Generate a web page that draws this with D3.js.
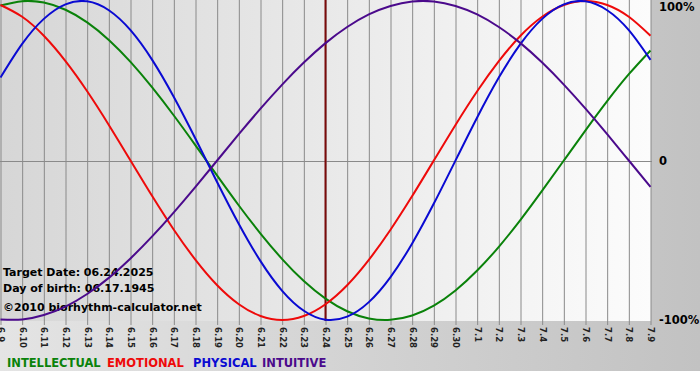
<!DOCTYPE html>
<html>
<head>
<meta charset="utf-8">
<script src="https://cdn.jsdelivr.net/npm/d3@7"></script>
<style>
  body { margin: 0; background: #fff; }
  svg { display: block; }
</style>
</head>
<body>
<div id="chart"></div>
<script>
// day labels on the x axis (m.d)
const days = ["6.9","6.10","6.11","6.12","6.13","6.14","6.15","6.16","6.17","6.18","6.19","6.20",
  "6.21","6.22","6.23","6.24","6.25","6.26","6.27","6.28","6.29","6.30",
  "7.1","7.2","7.3","7.4","7.5","7.6","7.7","7.8","7.9"]

// cycle values per day, -1..1
const intellectual = [0.972,0.999,0.990,0.945,0.866,0.756,0.618,0.458,0.282,0.095,-0.095,-0.282,-0.458,-0.618,-0.756,-0.866,
  -0.945,-0.990,-0.999,-0.972,-0.910,-0.815,-0.690,-0.541,-0.372,-0.189,0.000,0.189,0.372,0.541,0.690]
const emotional = [0.975,0.901,0.782,0.623,0.434,0.223,0.000,-0.223,-0.434,-0.623,-0.782,-0.901,-0.975,-1.000,-0.975,-0.901,
  -0.782,-0.623,-0.434,-0.223,0.000,0.223,0.434,0.623,0.782,0.901,0.975,1.000,0.975,0.901,0.782]
const physical = [0.520,0.731,0.888,0.979,0.998,0.942,0.817,0.631,0.398,0.136,-0.136,-0.398,-0.631,-0.817,-0.942,-0.998,
  -0.979,-0.888,-0.731,-0.520,-0.270,0.000,0.270,0.520,0.731,0.888,0.979,0.998,0.942,0.817,0.631]
const intuitive = [-0.997,-0.997,-0.969,-0.916,-0.837,-0.736,-0.614,-0.476,-0.325,-0.165,0.000,0.165,0.325,0.476,0.614,0.736,
  0.837,0.916,0.969,0.997,0.997,0.969,0.916,0.837,0.736,0.614,0.476,0.325,0.165,0.000,-0.165]

const yLabels = [[1,"100%"],[0,"0"],[-1,"-100%"]]
const targetDay = "6.24"

const series = [
  {name: "INTELLECTUAL", values: intellectual, color: "#0a820a", lx: 7},
  {name: "EMOTIONAL", values: emotional, color: "#ee0a0a", lx: 107},
  {name: "PHYSICAL", values: physical, color: "#0a0ad2", lx: 193},
  {name: "INTUITIVE", values: intuitive, color: "#4b0a8c", lx: 262}
]

const width = 700, height = 380
const plotW = 651, plotH = 321

const svg = d3.select("#chart").append("svg")
  .attr("width", width)
  .attr("height", height)
  .style("font-family", "'DejaVu Sans', Verdana, sans-serif")

const defs = svg.append("defs")
const outerGrad = defs.append("linearGradient").attr("id", "outerGrad")
outerGrad.append("stop").attr("offset", "0%").attr("stop-color", "#e4e4e4")
outerGrad.append("stop").attr("offset", "100%").attr("stop-color", "#c2c2c2")
const plotGrad = defs.append("linearGradient").attr("id", "plotGrad")
plotGrad.append("stop").attr("offset", "0%").attr("stop-color", "#d6d6d6")
plotGrad.append("stop").attr("offset", "100%").attr("stop-color", "#fcfcfc")

svg.append("rect").attr("width", width).attr("height", 371).attr("fill", "url(#outerGrad)")
svg.append("rect").attr("width", plotW).attr("height", plotH).attr("fill", "url(#plotGrad)")

const x = d3.scalePoint().domain(days).range([0.5, 650.5])
const y = d3.scaleLinear().domain([-1, 1]).range([320, 1])

// vertical grid + ticks via the axis
const xAxis = svg.append("g")
  .call(d3.axisBottom(x).tickSize(325).tickPadding(0))
xAxis.select(".domain").remove()
xAxis.selectAll(".tick line").attr("stroke", "#8a8a8a")
xAxis.selectAll(".tick text")
  .attr("transform", "rotate(90)")
  .attr("x", 327)
  .attr("y", 0)
  .attr("dy", "0.35em")
  .style("text-anchor", "start")
  .style("font-family", "'DejaVu Sans', Verdana, sans-serif")
  .style("font-size", "8.5px")
  .style("font-weight", "bold")
  .attr("fill", "#222")

// zero line
svg.append("line")
  .attr("x1", 0).attr("x2", 652)
  .attr("y1", Math.round(y(0)) + 0.5).attr("y2", Math.round(y(0)) + 0.5)
  .attr("stroke", "#8a8a8a")

// right labels
svg.selectAll(".ylab").data(yLabels).enter().append("text")
  .attr("class", "ylab")
  .attr("x", 659)
  .attr("y", d => Math.min(Math.max(y(d[0]), 7), 321))
  .attr("dy", "0.35em")
  .style("font-size", "11.5px")
  .style("font-weight", "bold")
  .text(d => d[1])

// info text
const info = ["Target Date: 06.24.2025", "Day of birth: 06.17.1945"]
svg.selectAll(".info").data(info).enter().append("text")
  .attr("x", 3)
  .attr("y", (d, i) => 276 + i * 15.5)
  .style("font-size", "11px")
  .style("font-weight", "bold")
  .text(d => d)
svg.append("text")
  .attr("x", 3).attr("y", 311)
  .style("font-size", "11px")
  .style("font-weight", "bold")
  .text("\u00a92010 biorhythm-calculator.net")

// target date line
svg.append("line")
  .attr("x1", x(targetDay)).attr("x2", x(targetDay))
  .attr("y1", 0).attr("y2", plotH)
  .attr("stroke", "#7a0a0a")
  .attr("stroke-width", 2)

const line = d3.line()
  .x((d, i) => x(days[i]))
  .y(d => y(d))
  .curve(d3.curveNatural)

svg.selectAll(".cycle").data(series).enter().append("path")
  .attr("class", "cycle")
  .attr("d", d => line(d.values))
  .attr("fill", "none")
  .attr("stroke", d => d.color)
  .attr("stroke-width", 2)

// legend
svg.selectAll(".legend").data(series).enter().append("text")
  .attr("x", d => d.lx)
  .attr("y", 367)
  .attr("fill", d => d.color)
  .style("font-size", "11.5px")
  .style("font-weight", "bold")
  .text(d => d.name)
</script>
</body>
</html>
